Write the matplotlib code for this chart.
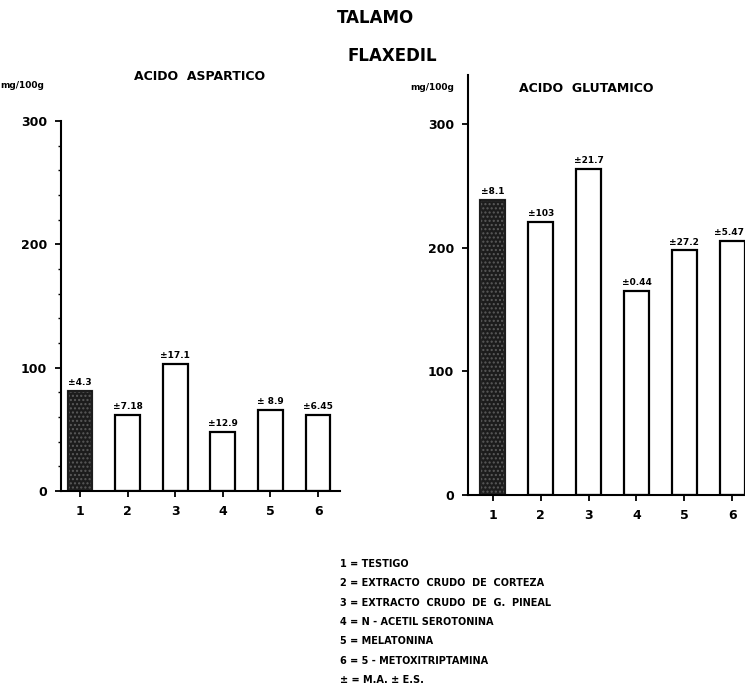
import matplotlib
matplotlib.use("Agg")
import matplotlib.pyplot as plt
import numpy as np

# datos
grupos = [1, 2, 3, 4, 5, 6]
aspartico = [81, 62, 103, 48, 66, 62]
aspartico_es = ["±4.3", "±7.18", "±17.1", "±12.9", "± 8.9", "±6.45"]
glutamico = [239, 221, 264, 165, 198, 206]
glutamico_es = ["±8.1", "±103", "±21.7", "±0.44", "±27.2", "±5.47"]
leyenda = [
    "1 = TESTIGO",
    "2 = EXTRACTO  CRUDO  DE  CORTEZA",
    "3 = EXTRACTO  CRUDO  DE  G.  PINEAL",
    "4 = N - ACETIL SEROTONINA",
    "5 = MELATONINA",
    "6 = 5 - METOXITRIPTAMINA",
    "± = M.A. ± E.S.",
]

plt.rcParams['font.family'] = ['DejaVu Sans']
plt.rcParams['font.weight'] = 'bold'

W, H = 745, 687
fig = plt.figure(figsize=(W / 100, H / 100), dpi=100)


def px_axes(x0, x1, ytop, ybot):
    return fig.add_axes([x0 / W, 1 - ybot / H, (x1 - x0) / W, (ybot - ytop) / H])


def panel(ax, valores, errores, ymax, ultimo_derecha=False):
    colores = ['#1c1c1c'] + ['white'] * 5
    bars = ax.bar(grupos, valores, width=0.52, color=colores, edgecolor='black', linewidth=1.6)
    bars[0].set_hatch('....')
    bars[0].set_edgecolor('#5a5a5a')
    ax.bar(grupos[:1], valores[:1], width=0.52, color='none', edgecolor='#111111', linewidth=1.2)
    for i, (x, v, t) in enumerate(zip(grupos, valores, errores)):
        if ultimo_derecha and i == len(grupos) - 1:
            # pegado al borde de la figura
            ax.text(x + 0.24, v + 3, t, ha='right', va='bottom', fontsize=6.5, fontweight='bold')
        else:
            ax.text(x, v + 3, t, ha='center', va='bottom', fontsize=6.5, fontweight='bold')
    ax.set_ylim(0, ymax)
    ax.spines['top'].set_visible(False)
    ax.spines['right'].set_visible(False)
    ax.spines['left'].set_linewidth(1.5)
    ax.spines['bottom'].set_linewidth(1.5)
    ax.set_xticks(grupos)
    ax.set_xticklabels([str(g) for g in grupos], fontsize=9, fontweight='bold')
    ax.set_yticks([0, 100, 200, 300])
    ax.set_yticklabels(['0', '100', '200', '300'], fontsize=9, fontweight='bold')
    ax.tick_params(axis='both', direction='out', length=4, width=1.3, pad=6)


# panel izquierdo
ax1 = px_axes(61, 340, 121, 491)
ax1.set_xlim(0.60, 6.46)
panel(ax1, aspartico, aspartico_es, 300)
ax1.set_yticks(np.arange(0, 301, 20), minor=True)
ax1.tick_params(axis='y', which='minor', direction='out', length=2, width=1)

# panel derecho
ax2 = px_axes(468, 760, 75, 495)
ax2.set_xlim(0.48, 6.58)
panel(ax2, glutamico, glutamico_es, 340, ultimo_derecha=True)

# titulos
fig.text(375 / W, 1 - 18 / H, "TALAMO", ha='center', va='center', fontsize=12)
fig.text(392 / W, 1 - 56 / H, "FLAXEDIL", ha='center', va='center', fontsize=12)
fig.text(200 / W, 1 - 77 / H, "ACIDO  ASPARTICO", ha='center', va='center', fontsize=9)
fig.text(586 / W, 1 - 88 / H, "ACIDO  GLUTAMICO", ha='center', va='center', fontsize=9)
fig.text(22 / W, 1 - 85 / H, "mg/100g", ha='center', va='center', fontsize=6.5)
fig.text(432 / W, 1 - 88 / H, "mg/100g", ha='center', va='center', fontsize=6.5)

for i, linea in enumerate(leyenda):
    fig.text(340 / W, 1 - (564 + i * 19.3) / H, linea, ha='left', va='center', fontsize=7)

fig.savefig("out.png", dpi=100)
